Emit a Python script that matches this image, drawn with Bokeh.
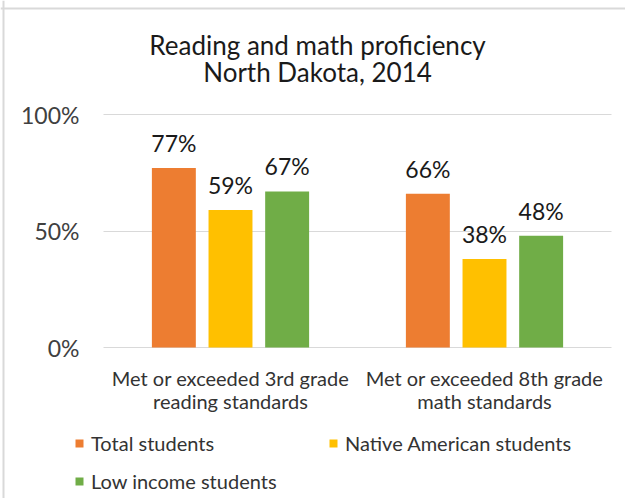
from bokeh.plotting import figure
from bokeh.models import (Range1d, ColumnDataSource, LabelSet, Label, Legend, LegendItem, Span,
                          FixedTicker, Grid)
from bokeh.core.properties import value
from bokeh.transform import dodge
from bokeh.embed import file_html
from bokeh.resources import INLINE

# ---------------- data ----------------
cat_line1 = ["Met or exceeded 3rd grade", "Met or exceeded 8th grade"]
cat_line2 = ["reading standards", "math standards"]
series_names = ["Total students", "Native American students", "Low income students"]
total = [77, 66]
native = [59, 38]
low_income = [67, 48]
y_ticks = [0, 50, 100]
y_tick_labels = ["0%", "50%", "100%"]
title_lines = ["Reading and math proficiency", "North Dakota, 2014"]

# ---------------- styling / layout ----------------
colors = ["#ED7D31", "#FFC000", "#70AD47"]
FONT = "Lato"
W, H = 625, 498
SHIFT = 1                     # page offset of the canvas
PLOT_LEFT, CAT_PX = 104, 254  # px where category area starts, px per category
Y0_PX, Y100_PX = 348, 115     # px rows of 0% and 100%
PPU = (Y0_PX - Y100_PX) / 100.0


def wx(px):
    return (px - PLOT_LEFT) / CAT_PX


def wy(py):
    return (Y0_PX - py) / PPU


n = len(cat_line1)
cat_x = [i + 0.5 for i in range(n)]

src = ColumnDataSource(dict(
    x=cat_x, line1=cat_line1, line2=cat_line2,
    total=total, native=native, low=low_income,
    total_lbl=[f"{v}%" for v in total],
    native_lbl=[f"{v}%" for v in native],
    low_lbl=[f"{v}%" for v in low_income],
))
tick_src = ColumnDataSource(dict(y=y_ticks, text=y_tick_labels, x=[wx(80)] * len(y_ticks)))

p = figure(width=W, height=H, output_backend="svg", toolbar_location=None,
           x_range=Range1d(wx(SHIFT), wx(W + SHIFT)),
           y_range=Range1d(wy(H + SHIFT), wy(SHIFT)),
           min_border=0)
p.outline_line_color = None
p.axis.visible = False
p.xgrid.visible = False

# horizontal gridlines at the y ticks, limited to the category area
p.ygrid.ticker = FixedTicker(ticks=y_ticks)
p.ygrid.grid_line_color = "#d9d9d9"
p.ygrid.grid_line_width = 1
if "cross_bounds" in Grid.properties():
    p.ygrid.cross_bounds = (0, n)

# chart border (left and top edges visible in the reference)
p.add_layout(Span(location=wx(4), dimension="height", line_color="#d9d9d9", line_width=2))
p.add_layout(Span(location=wy(9), dimension="width", line_color="#d9d9d9", line_width=2))

# y tick labels
p.add_layout(LabelSet(x="x", y="y", text="text", source=tick_src, text_align="right",
                      text_baseline="middle", text_font=value(FONT), text_font_size="23px",
                      text_color="#404040"))

offsets = [-0.223, 0.0, 0.223]
fields = ["total", "native", "low"]
renderers = []
for off, f, c in zip(offsets, fields, colors):
    r = p.vbar(x=dodge("x", off), top=f, bottom=0, width=0.173,
               source=src, fill_color=c, line_color=None)
    renderers.append(r)
    p.add_layout(LabelSet(x=dodge("x", off), y=f, text=f + "_lbl",
                          source=src, text_align="center", text_baseline="middle",
                          y_offset=25, text_font=value(FONT), text_font_size="23px",
                          text_color="#1a1a1a"))

# category labels
p.add_layout(LabelSet(x="x", y=0, text="line1", source=src, y_offset=-30,
                      text_align="center", text_baseline="middle", text_font=value(FONT),
                      text_font_size="20px", text_color="#333333"))
p.add_layout(LabelSet(x="x", y=0, text="line2", source=src, y_offset=-53,
                      text_align="center", text_baseline="middle", text_font=value(FONT),
                      text_font_size="20px", text_color="#333333"))

# title
for t, py in zip(title_lines, [45, 72]):
    p.add_layout(Label(x=wx(318), y=wy(py), text=t, text_align="center",
                       text_baseline="middle", text_font=FONT, text_font_size="26px",
                       text_color="#1a1a1a"))

# legend: rows centred near y=443 and y=481
legend = Legend(items=[LegendItem(label=nm, renderers=[r]) for nm, r in zip(series_names, renderers)],
                location=(75 - SHIFT, H + SHIFT - 497), orientation="horizontal", ncols=2,
                glyph_width=10, glyph_height=10, label_standoff=7, spacing=8,
                label_width=229, label_height=30,
                padding=0, margin=0, border_line_color=None, background_fill_alpha=0,
                label_text_font=FONT, label_text_font_size="20px", label_text_color="#333333")
p.add_layout(legend, "center")

open("out.html", "w").write(file_html(p, INLINE))
